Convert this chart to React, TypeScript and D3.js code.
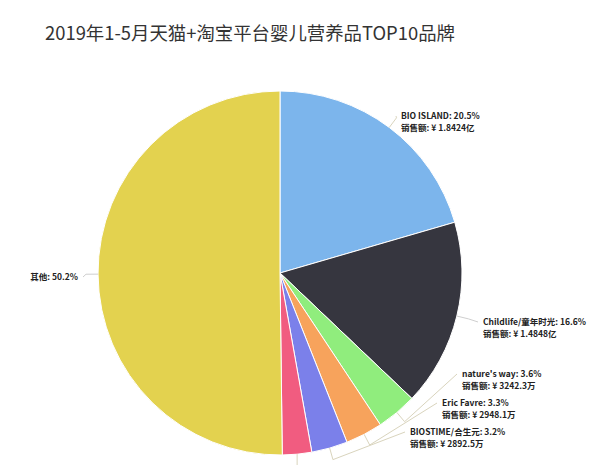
import * as d3 from "d3";
import { useEffect, useRef } from "react";

// slice order, clockwise from 12 o'clock
const brands = [
  "BIO ISLAND",
  "Childlife/童年时光",
  "nature's way",
  "Eric Favre",
  "BIOSTIME/合生元",
  "",
  "其他",
];
const shares = [20.5, 16.6, 3.6, 3.3, 3.2, 2.6, 50.2];
const sales = [
  "¥ 1.8424亿",
  "¥ 1.4848亿",
  "¥ 3242.3万",
  "¥ 2948.1万",
  "¥ 2892.5万",
  "",
  "",
];
const colors = ["#7cb5ec", "#36363f", "#90ed7d", "#f7a35c", "#7b80ea", "#f15c80", "#e3d24f"];

// label anchors (left edge, first line centre)
const labelPos = [
  { x: 401, y: 116, anchor: "start" },
  { x: 483, y: 322, anchor: "start" },
  { x: 462, y: 374, anchor: "start" },
  { x: 442, y: 403, anchor: "start" },
  { x: 410, y: 432, anchor: "start" },
  { x: 298, y: 490, anchor: "start" },
  { x: 78, y: 277, anchor: "end" },
];

const W = 600,
  H = 465,
  cx = 280,
  cy = 273,
  r = 182;

export default function App() {
  const ref = useRef<SVGSVGElement>(null);

  useEffect(() => {
    document.body.style.margin = "0";
    const svg = d3.select(ref.current);
    svg.selectAll("*").remove();

    svg
      .append("text")
      .attr("x", 250)
      .attr("y", 40)
      .attr("text-anchor", "middle")
      .attr("font-family", "Noto Sans CJK SC, Noto Sans, sans-serif")
      .attr("font-size", 18.4)
      .attr("fill", "#333")
      .text("2019年1-5月天猫+淘宝平台婴儿营养品TOP10品牌");

    const data = brands.map((b, i) => ({ name: b, value: shares[i], sale: sales[i], i }));
    const pie = d3.pie<any>().sort(null).value((d) => d.value);
    const arcs = pie(data);
    const arc = d3.arc<any>().innerRadius(0).outerRadius(r);

    const g = svg.append("g").attr("transform", `translate(${cx},${cy})`);

    g.selectAll("path")
      .data(arcs)
      .join("path")
      .attr("d", arc)
      .attr("fill", (d) => colors[d.index])
      .attr("stroke", "#fff")
      .attr("stroke-width", 1);

    // connectors
    const pt = (a: number, rr: number) => [cx + rr * Math.sin(a), cy - rr * Math.cos(a)];
    arcs.forEach((d) => {
      const lp = labelPos[d.index];
      const mid = (d.startAngle + d.endAngle) / 2;
      const p0 = pt(mid, r);
      const p1 = pt(mid, r + 12);
      const ex = lp.anchor === "start" ? lp.x - 5 : lp.x + 5;
      let pts: number[][];
      if (d.index === 5) {
        pts = [p0, [p0[0], H + 10]];
      } else {
        pts = [p0, p1, [ex, lp.y]];
      }
      svg
        .append("path")
        .attr("d", d3.line()(pts as any))
        .attr("fill", "none")
        .attr("stroke", d.index === 1 || d.index === 6 ? "#cfcfcf" : "#d9d4bd")
        .attr("stroke-width", 1);
    });

    // labels
    arcs.forEach((d) => {
      if (!d.data.name) return;
      const lp = labelPos[d.index];
      const t = svg
        .append("text")
        .attr("x", lp.x)
        .attr("y", lp.y + 3)
        .attr("text-anchor", lp.anchor)
        .attr("font-family", "Noto Sans CJK SC, DejaVu Sans, sans-serif")
        .attr("font-size", 8.5)
        .attr("font-weight", "bold")
        .attr("fill", "#222");
      t.append("tspan").text(`${d.data.name}: ${d.data.value.toFixed(1)}%`);
      if (d.data.sale) {
        t.append("tspan").attr("x", lp.x).attr("dy", 12).text(`销售额: ${d.data.sale}`);
      }
    });
  }, []);

  return (
    <svg
      ref={ref}
      width={W}
      height={H}
      style={{ display: "block", background: "#fff", fontFamily: "sans-serif" }}
    />
  );
}
